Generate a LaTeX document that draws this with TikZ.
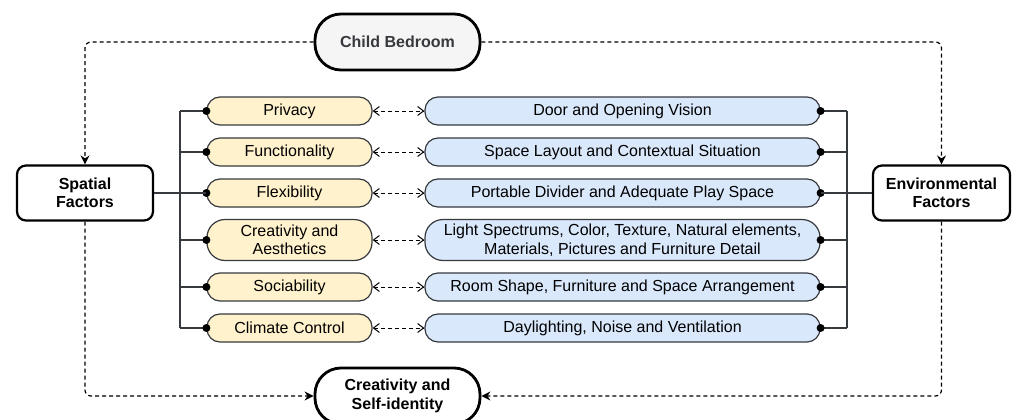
\documentclass[tikz,border=0pt]{standalone}
\usepackage{fontspec}
\setmainfont{Liberation Sans}
\usetikzlibrary{arrows.meta,positioning}

\definecolor{pillyellow}{HTML}{FFF2CC}
\definecolor{pillblue}{HTML}{DAE8FC}
\definecolor{bedgray}{HTML}{F5F5F5}
\definecolor{edgegray}{HTML}{36393D}
\newcommand{\diagfont}{\fontsize{16}{18.5}\selectfont}

\tikzset{
  factor/.style={rectangle, draw=black, line width=2.2pt, rounded corners=9pt, minimum width=136pt, minimum height=55pt, align=center, font=\diagfont\bfseries, inner sep=0pt},
  outcome/.style={rectangle, draw=black, line width=2.8pt, rounded corners=26pt, minimum width=165pt, minimum height=56pt, align=center, font=\diagfont\bfseries, inner sep=0pt},
  aspect/.style={rectangle, draw=edgegray, fill=pillyellow, line width=1.2pt, rounded corners=13pt, minimum width=165pt, minimum height=28pt, align=center, font=\diagfont, inner sep=0pt},
  detail/.style={aspect, fill=pillblue, minimum width=395pt},
  link/.style={line width=1.4pt, draw=edgegray},
  flow/.style={line width=1.2pt, dash pattern=on 4pt off 3pt, rounded corners=6pt, -{Stealth[length=9pt,width=9pt]}},
  pair/.style={line width=1pt, dash pattern=on 4pt off 3pt, {Straight Barb[length=6pt,width=9pt]}-{Straight Barb[length=6pt,width=9pt]}},
}

\begin{document}
\begin{tikzpicture}[x=1pt, y=-1pt]
\useasboundingbox (0,0) rectangle (1012,420);
\clip (0,0) rectangle (1012,420);

% main boxes
\node (bedroom) [outcome, fill=bedgray, text=edgegray] at (397.5,42) {Child Bedroom};
\node (spatial) [factor] at (85,193) {Spatial\\Factors};
\node (environ) [factor, minimum width=137pt] at (941.5,193) {Environmental\\Factors};
\node (selfid) [outcome] at (397.5,396) {Creativity and\\Self-identity};

% spatial aspects
\node (privacy) [aspect] at (289.5,111) {Privacy};
\node (function) [aspect] at (289.5,152) {Functionality};
\node (flexible) [aspect] at (289.5,193) {Flexibility};
\node (creative) [aspect, minimum height=41pt, rounded corners=18pt] at (289.5,240) {Creativity and\\Aesthetics};
\node (social) [aspect] at (289.5,287) {Sociability};
\node (climate) [aspect] at (289.5,328) {Climate Control};

% environmental details
\node (door) [detail] at (622.5,111) {Door and Opening Vision};
\node (layout) [detail] at (622.5,152) {Space Layout and Contextual Situation};
\node (divider) [detail] at (622.5,193) {Portable Divider and Adequate Play Space};
\node (light) [detail, minimum height=41pt, rounded corners=18pt] at (622.5,240) {Light Spectrums, Color, Texture, Natural elements,\\Materials, Pictures and Furniture Detail};
\node (arrange) [detail] at (622.5,287) {Room Shape, Furniture and Space Arrangement};
\node (daylight) [detail] at (622.5,328) {Daylighting, Noise and Ventilation};

% buses
\coordinate (busL) at (180,0);
\coordinate (busR) at (847,0);
\foreach \a in {privacy,function,flexible,creative,social,climate} {
  \draw[link] (\a.west) -- (\a.west -| busL);
  \fill (\a.west) circle (4pt);
}
\foreach \b in {door,layout,divider,light,arrange,daylight} {
  \draw[link] (\b.east) -- (\b.east -| busR);
  \fill (\b.east) circle (4pt);
}
\draw[link] (privacy.west -| busL) -- (climate.west -| busL);
\draw[link] (door.east -| busR) -- (daylight.east -| busR);
\draw[link] (spatial.east) -- (flexible.west);
\draw[link] (environ.west) -- (divider.east);

% pairs
\foreach \a/\b in {privacy/door,function/layout,flexible/divider,creative/light,social/arrange,climate/daylight}
  \draw[pair] (\a.east) -- (\b.west);

% flows
\draw[flow] (bedroom.west) -| (spatial.north);
\draw[flow] (bedroom.east) -| (environ.north);
\draw[flow] (spatial.south) |- (selfid.west);
\draw[flow] (environ.south) |- (selfid.east);
\end{tikzpicture}
\end{document}
